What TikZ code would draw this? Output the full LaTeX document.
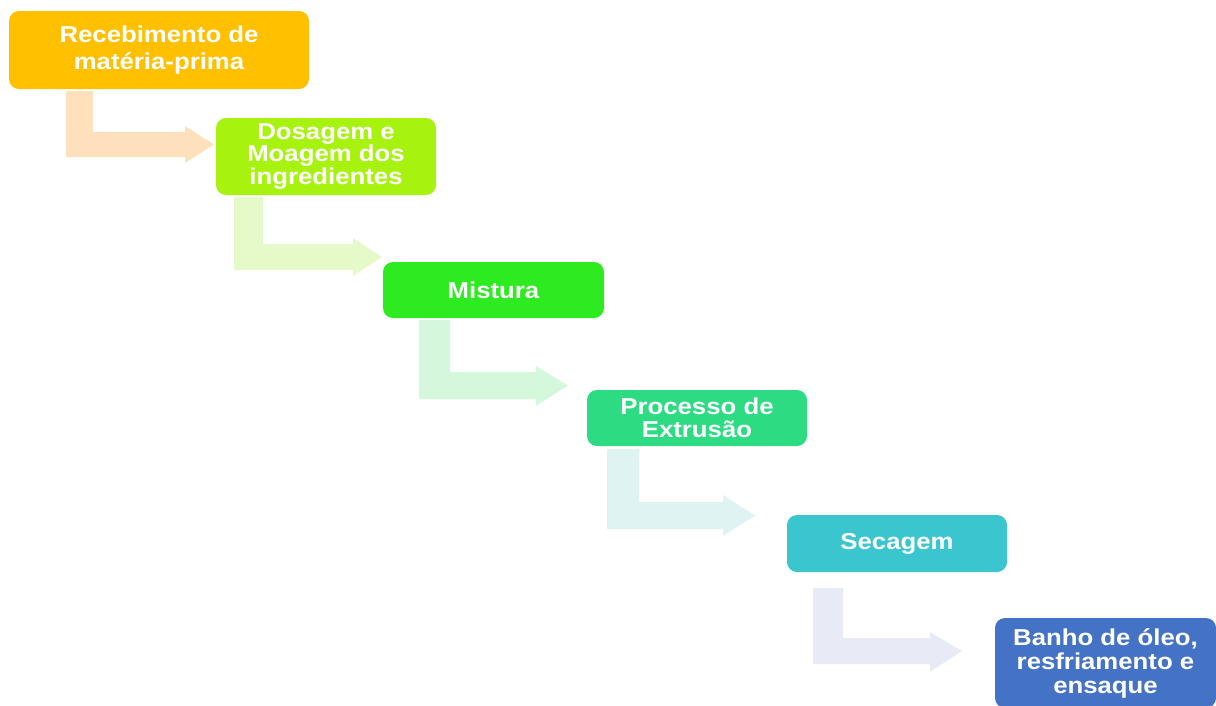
\documentclass[tikz,border=0pt]{standalone}
\usepackage{fontspec}
\setmainfont{Liberation Sans}[FakeStretch=1.12]
\definecolor{c1}{HTML}{FFC000}
\definecolor{c2}{HTML}{A8F20F}
\definecolor{c3}{HTML}{2EEB21}
\definecolor{c4}{HTML}{2DDB82}
\definecolor{c5}{HTML}{3BC6CF}
\definecolor{c6}{HTML}{4472C4}
\definecolor{a1}{HTML}{FFE0BC}
\definecolor{a2}{HTML}{E6F9C8}
\definecolor{a3}{HTML}{D5F7DC}
\definecolor{a4}{HTML}{DFF3F3}
\definecolor{a5}{HTML}{E8EBF5}
\tikzset{
  stepbox/.style={rectangle, rounded corners=10pt, inner sep=0pt, text=white,
    align=center, font=\bfseries\fontsize{23}{#1}\selectfont},
  stepbox/.default=23,
}
\begin{document}
\begin{tikzpicture}[x=1pt,y=-1pt]
\useasboundingbox (0,0) rectangle (1216,705);
\clip (0,0) rectangle (1216,705);
% boxes
\node[stepbox=27, fill=c1, minimum width=300pt, minimum height=78pt] (b1) at (159,50)
  {Recebimento de\\matéria-prima};
\node[stepbox=21.5, fill=c2, minimum width=220pt, minimum height=77pt] (b2) at (326,156.5)
  {Dosagem e\\Moagem dos\\ingredientes};
\node[stepbox, fill=c3, minimum width=221pt, minimum height=56pt] (b3) at (493.5,290)
  {Mistura};
\node[stepbox=22.5, fill=c4, minimum width=220pt, minimum height=56pt] (b4) at (697,418)
  {Processo de\\Extrusão};
\node[stepbox, fill=c5, minimum width=220pt, minimum height=57pt] (b5) at (897,543.5)
  {Secagem};
\node[stepbox=24, fill=c6, minimum width=221pt, minimum height=90pt] (b6) at (1105.5,663)
  {Banho de óleo,\\resfriamento e\\ensaque};
% block arrows
\fill[a1] (66,91) -- (93,91) -- (93,132) -- (185,132) -- (185,126) -- (214,144.5)
  -- (185,163) -- (185,157) -- (66,157) -- cycle;
\fill[a2] (234,197) -- (263,197) -- (263,244) -- (353,244) -- (353,238) -- (382,257)
  -- (353,276) -- (353,270) -- (234,270) -- cycle;
\fill[a3] (419,320) -- (450,320) -- (450,372) -- (536,372) -- (536,366) -- (568,385.5)
  -- (536,406) -- (536,399) -- (419,399) -- cycle;
\fill[a4] (607,449) -- (639,449) -- (639,502) -- (723,502) -- (723,495) -- (755,515.5)
  -- (723,536) -- (723,529) -- (607,529) -- cycle;
\fill[a5] (813,588) -- (843,588) -- (843,638) -- (930,638) -- (930,632) -- (962,651)
  -- (930,672) -- (930,664) -- (813,664) -- cycle;
\end{tikzpicture}
\end{document}
